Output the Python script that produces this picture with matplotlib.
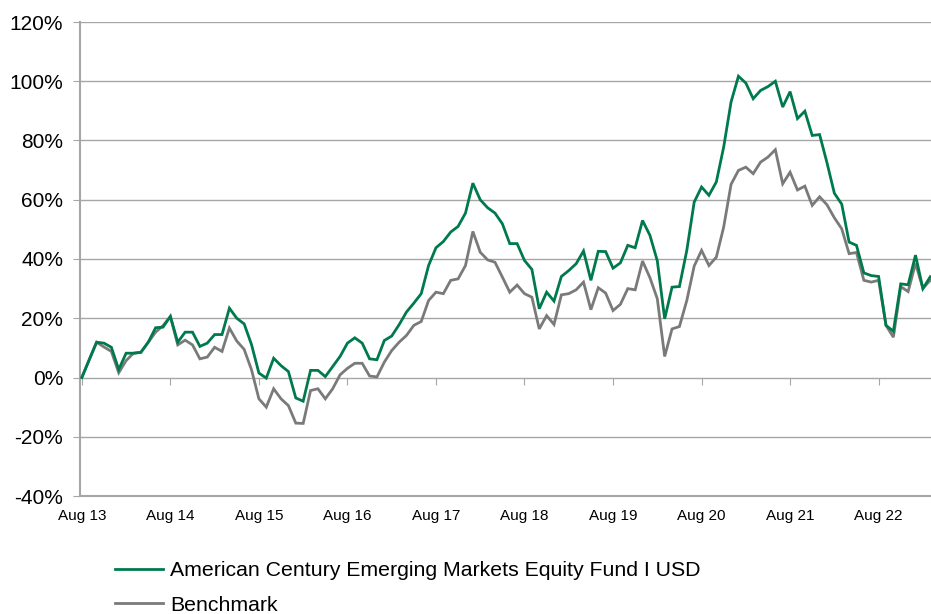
import matplotlib
matplotlib.use("Agg")
import matplotlib.pyplot as plt
import numpy as np

fund = [0, 6.0, 11.9, 11.6, 10.2, 2.7, 8.2, 8.2, 8.5, 11.9, 16.8, 17.0, 20.6, 11.9, 15.3, 15.3,
        10.5, 11.6, 14.5, 14.5, 23.4, 20.0, 18.1, 11.1, 1.5, -0.2, 6.5, 4.0, 2.0, -6.9, -8.0, 2.4,
        2.4, 0.3, 3.7, 7.1, 11.6, 13.4, 11.6, 6.3, 6.0, 12.5, 14.0, 17.8, 22.1, 25.1, 28.3, 37.8,
        43.8, 45.9, 49.1, 51.0, 55.5, 65.6, 60.0, 57.3, 55.5, 51.9, 45.2, 45.2, 39.5, 36.5, 23.2,
        28.8, 25.8, 34.1, 36.1, 38.4, 42.7, 32.8, 42.6, 42.5, 36.9, 38.7, 44.6, 43.8, 53.0, 48.0,
        39.4, 19.8, 30.5, 30.7, 42.9, 59.2, 64.3, 61.5, 66.0, 77.8, 93.0, 101.7, 99.4, 94.1, 96.9,
        98.2, 100.0, 91.3, 96.5, 87.4, 89.9, 81.7, 82.0, 72.5, 62.2, 58.5, 45.7, 44.6, 35.3, 34.4,
        34.1, 17.6, 15.6, 31.6, 31.3, 41.3, 30.0, 34.0]

benchmark = [0, 6.0, 11.9, 10.3, 8.8, 1.6, 5.7, 8.2, 8.5, 11.9, 15.3, 17.5, 20.6, 11.0, 12.6, 11.0,
             6.3, 6.9, 10.2, 8.8, 16.7, 12.3, 9.5, 2.6, -7.2, -10.0, -3.8, -7.2, -9.5, -15.4, -15.5,
             -4.4, -3.8, -7.2, -3.8, 0.9, 3.1, 4.8, 4.8, 0.5, 0.2, 5.2, 9.1, 11.9, 14.2, 17.6, 18.9,
             26.0, 28.8, 28.3, 32.8, 33.3, 37.8, 49.3, 42.3, 39.7, 38.9, 33.9, 28.8, 31.2, 28.3, 27.1,
             16.4, 20.9, 17.9, 27.9, 28.3, 29.6, 32.2, 22.9, 30.3, 28.5, 22.6, 24.7, 30.0, 29.6, 39.3,
             33.7, 26.6, 7.1, 16.4, 17.2, 26.0, 37.6, 42.9, 37.8, 40.6, 50.8, 65.2, 69.9, 71.0, 68.8,
             72.7, 74.4, 76.9, 65.4, 69.3, 63.3, 64.6, 58.1, 61.0, 58.3, 53.9, 50.2, 41.8, 42.2, 32.8,
             32.2, 32.8, 17.6, 13.6, 30.7, 29.0, 38.5, 30.1, 32.8]

tick_labels = ["Aug 13", "Aug 14", "Aug 15", "Aug 16", "Aug 17",
               "Aug 18", "Aug 19", "Aug 20", "Aug 21", "Aug 22"]
y_ticks = [-40, -20, 0, 20, 40, 60, 80, 100, 120]
series_names = ["American Century Emerging Markets Equity Fund I USD", "Benchmark"]

GREEN = "#007A4D"
GRAY = "#7A7A7A"
GRID = "#A6A6A6"
FONT = ["Liberation Sans", "DejaVu Sans"]

plt.rcParams["font.family"] = FONT

fig = plt.figure(figsize=(9.31, 6.14), dpi=100)
ax = fig.add_axes([80 / 931, (614 - 496) / 614, (931 - 80) / 931, (496 - 22) / 614])

months = np.arange(len(fund))
lb, = ax.plot(months, benchmark, color=GRAY, lw=2.0, solid_joinstyle="miter", zorder=3)
lf, = ax.plot(months, fund, color=GREEN, lw=2.0, solid_joinstyle="miter", zorder=4)

ax.set_xlim(-0.25, 115.1)
ax.set_ylim(-40, 120)
ax.set_yticks(y_ticks)
ax.set_yticklabels([f"{v}%" for v in y_ticks], fontsize=15)
ax.yaxis.grid(True, color=GRID, lw=1.0)
ax.set_axisbelow(True)
ax.tick_params(axis="y", length=5, color=GRID, pad=7)

xt = [12 * i for i in range(len(tick_labels))]
ax.set_xticks(xt)
ax.set_xticklabels(tick_labels, fontsize=11)
ax.tick_params(axis="x", length=0, pad=9.5)

for s in ["top", "right"]:
    ax.spines[s].set_visible(False)
ax.spines["left"].set_color(GRID)
ax.spines["left"].set_linewidth(1.5)
ax.spines["bottom"].set_color(GRID)
ax.spines["bottom"].set_linewidth(1.5)

sec = ax.secondary_xaxis(40 / 160)
sec.set_xticks(xt)
sec.set_xticklabels([""] * len(xt))
sec.tick_params(axis="x", length=5, color=GRID, direction="out")
sec.spines["bottom"].set_visible(False)

leg = fig.legend([lf, lb], series_names, loc="upper left",
                 bbox_to_anchor=(115 / 931, (614 - 561) / 614),
                 frameon=False, fontsize=15.3, handlelength=2.25, handletextpad=0.33,
                 labelspacing=0.74, borderpad=0, borderaxespad=0)

fig.savefig("out.png", dpi=100)
